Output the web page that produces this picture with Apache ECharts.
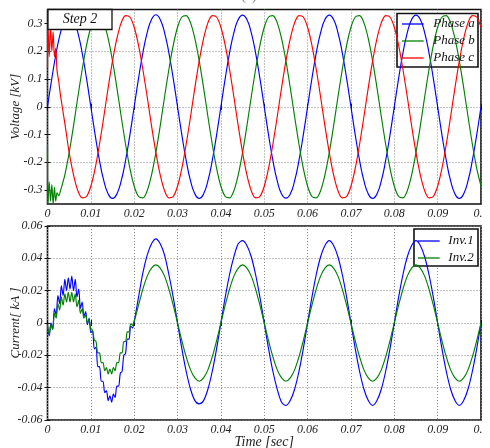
<!DOCTYPE html>
<html><head><meta charset="utf-8">
<script src="https://cdn.jsdelivr.net/npm/echarts@6/dist/echarts.min.js"></script>
<style>html,body{margin:0;padding:0;background:#fff}#c{width:490px;height:448px}</style>
</head><body><div id="c"></div>
<script>
// ---- time grids ----
const timeV = [0,0.001,0.002,0.003,0.004,0.005,0.006,0.007,0.008,0.009,
0.01,0.011,0.012,0.013,0.014,0.015,0.016,0.017,0.018,0.019,
0.02,0.021,0.022,0.023,0.024,0.025,0.026,0.027,0.028,0.029,
0.03,0.031,0.032,0.033,0.034,0.035,0.036,0.037,0.038,0.039,
0.04,0.041,0.042,0.043,0.044,0.045,0.046,0.047,0.048,0.049,
0.05,0.051,0.052,0.053,0.054,0.055,0.056,0.057,0.058,0.059,
0.06,0.061,0.062,0.063,0.064,0.065,0.066,0.067,0.068,0.069,
0.07,0.071,0.072,0.073,0.074,0.075,0.076,0.077,0.078,0.079,
0.08,0.081,0.082,0.083,0.084,0.085,0.086,0.087,0.088,0.089,
0.09,0.091,0.092,0.093,0.094,0.095,0.096,0.097,0.098,0.099,0.1];

// ---- tick labels ----
const voltTicks = [-0.3,-0.2,-0.1,0,0.1,0.2,0.3];
const currentTicks = [-0.06,-0.04,-0.02,0,0.02,0.04,0.06];

// ---- voltage (kV) ----
const phaseA = [0,0.102,0.194,0.267,0.314,0.33,0.314,0.267,0.194,0.102,0,-0.102,-0.194,-0.267,-0.314,-0.33,-0.314,-0.267,-0.194,-0.102,
0,0.102,0.194,0.267,0.314,0.331,0.314,0.267,0.194,0.102,0,-0.102,-0.194,-0.267,-0.314,-0.33,-0.314,-0.267,-0.194,-0.102,
0,0.102,0.194,0.267,0.314,0.33,0.314,0.267,0.194,0.102,0,-0.102,-0.194,-0.267,-0.314,-0.329,-0.314,-0.267,-0.194,-0.102,
0,0.102,0.194,0.267,0.314,0.33,0.314,0.267,0.194,0.102,0,-0.102,-0.194,-0.267,-0.314,-0.33,-0.314,-0.267,-0.194,-0.102,
0,0.102,0.194,0.267,0.314,0.33,0.314,0.267,0.194,0.102,0,-0.102,-0.194,-0.267,-0.314,-0.33,-0.314,-0.267,-0.194,-0.102,0];
const startT = [0,0.0001,0.0004,0.0007,0.001,0.0013,0.0016,0.0019,0.0022,0.0026];
const phaseBStart = [-0.14,-0.35,-0.27,-0.34,-0.28,-0.35,-0.29,-0.34,-0.31,-0.32];
const phaseCStart = [0.14,0.30,0.18,0.29,0.20,0.27,0.18,0.21,0.13,0.09];
// phase b and c from t = 0.003 s
const phaseB = [-0.302,-0.245,-0.165,-0.069,0.035,0.134,0.221,0.286,0.323,0.328,0.302,0.245,0.165,0.069,-0.035,-0.134,-0.221,
-0.286,-0.323,-0.328,-0.302,-0.245,-0.165,-0.069,0.035,0.134,0.221,0.286,0.323,0.328,0.302,0.245,0.165,0.069,-0.035,-0.134,-0.221,
-0.286,-0.323,-0.328,-0.302,-0.245,-0.165,-0.069,0.035,0.134,0.221,0.286,0.323,0.328,0.302,0.245,0.165,0.069,-0.035,-0.134,-0.221,
-0.286,-0.323,-0.328,-0.302,-0.245,-0.165,-0.069,0.035,0.134,0.221,0.286,0.323,0.328,0.302,0.245,0.165,0.069,-0.035,-0.134,-0.221,
-0.286,-0.323,-0.328,-0.302,-0.245,-0.165,-0.069,0.035,0.134,0.221,0.286,0.323,0.328,0.302,0.245,0.165,0.069,-0.035,-0.134,-0.221,
-0.286];
const phaseC = [0.04,-0.06,-0.165,-0.245,-0.302,-0.328,-0.323,-0.286,-0.221,-0.134,-0.035,0.069,0.165,0.245,0.302,0.328,0.323,
0.286,0.221,0.134,0.035,-0.069,-0.165,-0.245,-0.302,-0.328,-0.323,-0.286,-0.221,-0.134,-0.035,0.069,0.165,0.245,0.302,0.328,0.323,
0.286,0.221,0.134,0.035,-0.069,-0.165,-0.245,-0.302,-0.328,-0.323,-0.286,-0.221,-0.134,-0.035,0.069,0.165,0.245,0.302,0.328,0.323,
0.286,0.221,0.134,0.035,-0.069,-0.165,-0.245,-0.302,-0.328,-0.323,-0.286,-0.221,-0.134,-0.035,0.069,0.165,0.245,0.302,0.328,0.323,
0.286,0.221,0.134,0.035,-0.069,-0.165,-0.245,-0.302,-0.328,-0.323,-0.286,-0.221,-0.134,-0.035,0.069,0.165,0.245,0.302,0.328,0.323,
0.286];

// ---- current (kA) ----
const timeIStart = [0,0.0004,0.0008,0.0012,0.0016,0.002,0.0024,0.0028,0.0032,0.0036,0.004,0.0044,0.0048,0.0052,0.0056,0.006,0.0064,0.0068,0.0072,0.0076,
0.008,0.0084,0.0088,0.0092,0.0096,0.01,0.0104,0.0108,0.0112,0.0116,0.012,0.0124,0.0128,0.0132,0.0136,0.014,0.0144,0.0148,0.0152,0.0156,
0.016,0.0164,0.0168,0.0172,0.0176,0.018,0.0184,0.0188,0.0192,0.0196,0.02];
const inv1Start = [-0.002,-0.008,0.000,-0.004,0.009,0.005,0.017,0.012,0.023,0.017,0.027,0.020,0.028,0.021,0.029,0.020,0.027,0.016,0.021,0.009,
0.013,0.004,0.007,-0.001,0.003,-0.006,-0.005,-0.016,-0.015,-0.027,-0.027,-0.036,-0.036,-0.043,-0.042,-0.048,-0.045,-0.049,-0.044,-0.046,
-0.039,-0.039,-0.031,-0.030,-0.020,-0.019,-0.010,-0.010,-0.002,-0.003,0.001];
const inv2Start = [-0.001,-0.007,-0.001,-0.004,0.006,0.003,0.012,0.008,0.016,0.011,0.018,0.013,0.019,0.013,0.019,0.013,0.018,0.010,0.014,0.006,
0.009,0.003,0.005,0.000,0.002,-0.004,-0.0045,-0.0105,-0.0115,-0.0185,-0.0185,-0.0245,-0.0245,-0.0295,-0.0275,-0.0315,-0.0285,-0.0315,-0.0275,-0.0295,
-0.0245,-0.0245,-0.0185,-0.0185,-0.0115,-0.0115,-0.0055,-0.0055,-0.0005,-0.0015,0.001];
// from t = 0.021 s
const inv1 = [0.016,0.031,0.042,0.049,0.052,0.049,0.042,0.030,0.016,0.000,
-0.016,-0.030,-0.041,-0.048,-0.050,-0.048,-0.041,-0.030,-0.016,0.000,
0.016,0.030,0.041,0.049,0.051,0.048,0.041,0.030,0.016,0.000,
-0.016,-0.030,-0.041,-0.049,-0.051,-0.048,-0.041,-0.030,-0.016,0.000,
0.016,0.030,0.041,0.048,0.051,0.048,0.041,0.030,0.016,0.000,
-0.016,-0.030,-0.041,-0.048,-0.051,-0.048,-0.041,-0.030,-0.016,0.000,
0.016,0.030,0.041,0.048,0.051,0.048,0.041,0.030,0.016,0.000,
-0.016,-0.030,-0.041,-0.048,-0.051,-0.048,-0.041,-0.030,-0.016,0.000];
const inv2 = [0.011,0.021,0.029,0.034,0.036,0.034,0.029,0.021,0.011,0.000,
-0.011,-0.021,-0.029,-0.034,-0.036,-0.034,-0.029,-0.021,-0.011,0.000,
0.011,0.021,0.029,0.034,0.036,0.034,0.029,0.021,0.011,0.000,
-0.011,-0.021,-0.029,-0.034,-0.036,-0.034,-0.029,-0.021,-0.011,0.000,
0.011,0.021,0.029,0.034,0.036,0.034,0.029,0.021,0.011,0.000,
-0.011,-0.021,-0.029,-0.034,-0.036,-0.034,-0.029,-0.021,-0.011,0.000,
0.011,0.021,0.029,0.034,0.036,0.034,0.029,0.021,0.011,0.000,
-0.011,-0.021,-0.029,-0.034,-0.036,-0.034,-0.029,-0.021,-0.011,0.000];

const voltageNames = ['Phase a','Phase b','Phase c'];
const currentNames = ['Inv.1','Inv.2'];

// ---- build ----
const pairs = (ts, vs) => vs.map((v, i) => [ts[i], v]);
const tMain = timeV.slice(3);
const timeI = timeIStart.concat(timeV.slice(21));
const FONT = 'Liberation Serif';
const lblStyle = {fontFamily: FONT, fontStyle: 'italic', fontSize: 12, color: '#222'};
const nameStyle = {fontFamily: FONT, fontStyle: 'italic', fontSize: 13, color: '#222'};
const grid = {show: true, borderColor: '#111', borderWidth: 1.6, backgroundColor: '#fff',
  containLabel: false, outerBoundsMode: 'none'};
const dotted = {type: [1, 2], color: '#888', width: 1};
const lineIcon = 'path://M0,0H100V6H0Z';
const tick = {show: true, inside: true, length: 3, lineStyle: {color: '#111', width: 1}};
const fmt = v => String(Math.round(v * 100) / 100);

const xAxisBase = (gi, extra) => Object.assign({
  gridIndex: gi, type: 'value', min: 0, max: 0.1, interval: 0.01,
  axisLine: {show: false}, axisTick: tick,
  splitLine: {show: true, lineStyle: dotted},
  axisLabel: Object.assign({margin: 4, formatter: fmt}, lblStyle)
}, extra || {});
const xTop = gi => ({gridIndex: gi, type: 'value', position: 'top', min: 0, max: 0.1, interval: 0.01,
  axisLine: {show: false}, axisTick: tick, splitLine: {show: false}, axisLabel: {show: false}});
const yRight = (gi, min, max, iv, ticks) => ({gridIndex: gi, type: 'value', position: 'right', min: min, max: max, interval: iv,
  axisLine: {show: false}, axisTick: Object.assign({customValues: ticks}, tick), splitLine: {show: false}, axisLabel: {show: false}});

const chart = echarts.init(document.getElementById('c'), null, {renderer: 'canvas'});
chart.setOption({
  animation: false,
  backgroundColor: '#fff',
  grid: [
    Object.assign({left: 47.5, right: 9, top: 9.5, height: 194.5}, grid),
    Object.assign({left: 47.5, right: 9, top: 226, bottom: 28}, grid)
  ],
  xAxis: [
    xAxisBase(0),
    xAxisBase(1, {name: 'Time [sec]', nameLocation: 'middle', nameGap: 15, nameMoveOverlap: false,
      nameTextStyle: Object.assign({}, nameStyle, {fontSize: 14})}),
    xTop(0), xTop(1)
  ],
  yAxis: [
    {gridIndex: 0, type: 'value', min: -0.35, max: 0.35, interval: 0.05,
     axisLine: {show: false}, axisTick: Object.assign({customValues: voltTicks}, tick),
     splitLine: {show: true, lineStyle: {type: [1, 2], width: 1, color: ['rgba(0,0,0,0)', '#888']}},
     axisLabel: Object.assign({margin: 5, customValues: voltTicks, formatter: fmt}, lblStyle),
     name: 'Voltage [kV]', nameLocation: 'middle', nameGap: 25, nameMoveOverlap: false, nameTextStyle: nameStyle},
    {gridIndex: 1, type: 'value', min: -0.06, max: 0.06, interval: 0.02,
     axisLine: {show: false}, axisTick: tick,
     splitLine: {show: true, lineStyle: dotted},
     axisLabel: Object.assign({margin: 5, customValues: currentTicks, formatter: fmt}, lblStyle),
     name: 'Current[ kA ]', nameLocation: 'middle', nameGap: 25, nameMoveOverlap: false, nameTextStyle: nameStyle},
    yRight(0, -0.35, 0.35, 0.05, voltTicks),
    yRight(1, -0.06, 0.06, 0.02, currentTicks)
  ],
  legend: [
    {data: voltageNames, orient: 'vertical', left: 402, top: 17, padding: 0, itemGap: 3, icon: lineIcon,
     itemWidth: 23, itemHeight: 1.3, textStyle: Object.assign({}, nameStyle, {color: '#111', padding: [0, 0, 0, 4], lineHeight: 14}), z: 5},
    {data: currentNames, orient: 'vertical', left: 418, top: 234, padding: 0, itemGap: 3, icon: lineIcon,
     itemWidth: 25, itemHeight: 1.3, textStyle: Object.assign({}, nameStyle, {color: '#111', padding: [0, 0, 0, 2], lineHeight: 14}), z: 5}
  ],
  series: [
    {name: 'Phase a', type: 'line', xAxisIndex: 0, yAxisIndex: 0, symbol: 'none', smooth: true,
     color: '#0000ff', lineStyle: {width: 1.15}, data: pairs(timeV, phaseA)},
    {name: 'Phase b', type: 'line', xAxisIndex: 0, yAxisIndex: 0, symbol: 'none', smooth: 0.3,
     color: '#008000', lineStyle: {width: 1.15}, data: pairs(startT, phaseBStart).concat(pairs(tMain, phaseB))},
    {name: 'Phase c', type: 'line', xAxisIndex: 0, yAxisIndex: 0, symbol: 'none', smooth: 0.3,
     color: '#ff0000', lineStyle: {width: 1.15}, data: pairs(startT, phaseCStart).concat(pairs(tMain, phaseC))},
    {name: 'Inv.1', type: 'line', xAxisIndex: 1, yAxisIndex: 1, symbol: 'none', smooth: 0.3,
     color: '#0000ff', lineStyle: {width: 1.15}, data: pairs(timeI, inv1Start.concat(inv1))},
    {name: 'Inv.2', type: 'line', xAxisIndex: 1, yAxisIndex: 1, symbol: 'none', smooth: 0.3,
     color: '#008000', lineStyle: {width: 1.15}, data: pairs(timeI, inv2Start.concat(inv2))}
  ],
  graphic: [
    {type: 'rect', z: 3, shape: {x: 397, y: 13.5, width: 81, height: 53.5}, style: {fill: '#fff', stroke: '#111', lineWidth: 1.6}},
    {type: 'rect', z: 3, shape: {x: 414, y: 229, width: 64, height: 37}, style: {fill: '#fff', stroke: '#111', lineWidth: 1.6}},
    {type: 'rect', z: 100, shape: {x: 48, y: 9.5, width: 64, height: 20}, style: {fill: '#fff', stroke: '#111', lineWidth: 1.3}},
    {type: 'text', z: 101, style: {text: 'Step 2', x: 80, y: 19.5, textAlign: 'center', textVerticalAlign: 'middle',
      font: 'italic 14px "Liberation Serif"', fill: '#111'}},
    {type: 'text', z: 101, style: {text: '(a)', x: 249, y: 3, textAlign: 'center', textVerticalAlign: 'bottom',
      font: '14px "Liberation Serif"', fill: '#888'}},
    {type: 'rect', z: 200, shape: {x: 482.5, y: 0, width: 8, height: 448}, style: {fill: '#fff'}}
  ]
});
</script></body></html>
